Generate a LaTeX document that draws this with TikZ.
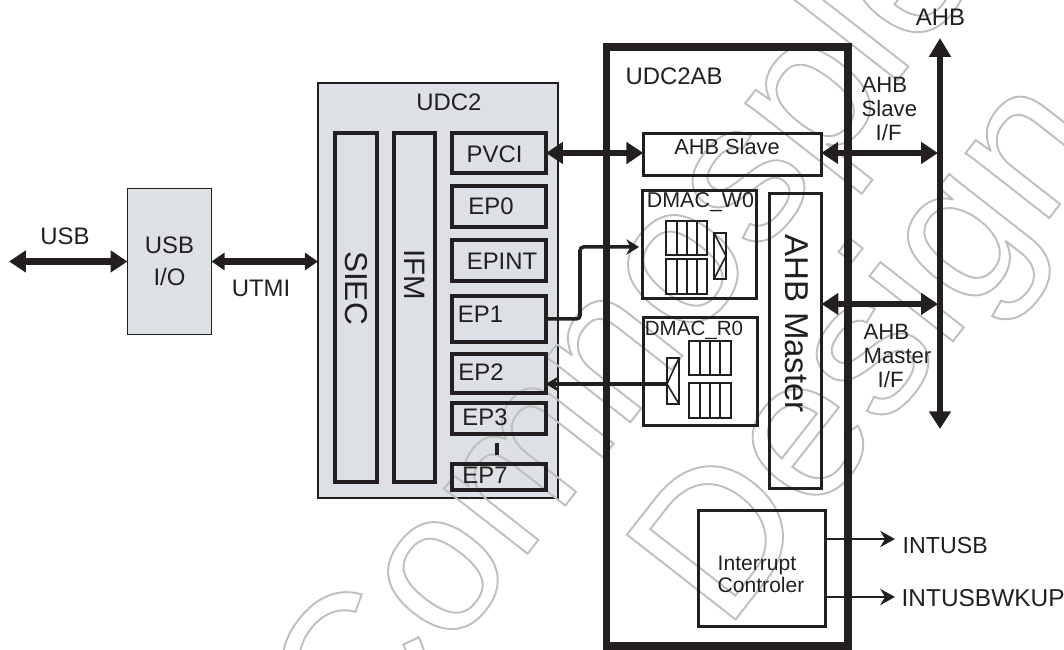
\documentclass[tikz,border=0pt]{standalone}
\usepackage{fontspec}
\setmainfont{Liberation Sans}
\usepackage{tikz}
\usetikzlibrary{positioning, arrows.meta}
\definecolor{panelgrey}{RGB}{221,224,229}
\definecolor{ink}{RGB}{35,31,32}
\newcommand{\hollow}[1]{\special{pdf:code 1 Tr 0.55 w}#1\special{pdf:code 0 Tr}}

\begin{document}
\begin{tikzpicture}[
    >=Stealth,
    greybox/.style={draw=ink, fill=panelgrey, line width=0.36pt, outer sep=0pt, inner sep=0pt},
    block/.style={draw=ink, line width=1.14pt, outer sep=0pt, inner sep=0pt},
    thinblock/.style={draw=ink, line width=0.85pt, outer sep=0pt, inner sep=0pt},
    lbl/.style={inner sep=0pt, text=ink, font=\fontsize{6.8}{8}\selectfont},
    iflbl/.style={inner sep=0pt, text=ink, anchor=west, align=left, font=\fontsize{6.3}{6.8}\selectfont},
    stamp/.style={inner sep=0pt, anchor=base west, rotate=52, text=black!25, font=\fontsize{57}{60}\selectfont},
    bus/.style={{Triangle[length=4.8pt,width=6pt]}-{Triangle[length=4.8pt,width=6pt]}, draw=ink, line width=1.9pt},
    smallbus/.style={{Triangle[length=3.7pt,width=4.8pt]}-{Triangle[length=3.7pt,width=4.8pt]}, draw=ink, line width=1.9pt},
    link/.style={-{Stealth[length=3.6pt,width=4.4pt]}, draw=ink, line width=1pt},
    outlink/.style={-{Stealth[length=4.2pt,width=4.6pt]}, draw=ink, line width=0.7pt},
    fifo/.style={draw=ink, line width=0.45pt}
]

\useasboundingbox (0,0) rectangle (10.64,6.5);

% Outside block and the USB side
\node[greybox, minimum width=0.84cm, minimum height=1.46cm, align=center, text=ink, font=\fontsize{6.8}{9.1}\selectfont] (usbio) at (1.695,3.885) {USB\\I/O};
\node[greybox, minimum width=2.40cm, minimum height=4.15cm] (udc2) at (4.38,3.595) {};
\coordinate (usbend) at (0.09,3.885);
\node[lbl] (usblbl) at (0.65,4.14) {USB};
\node[lbl] (utmilbl) at (2.61,3.62) {UTMI};
\node[lbl] (udc2lbl) at (4.49,5.48) {UDC2};

% Grey stamp across the page
\node[stamp] (stampa) at (3.61,-1.17) {\hollow{Comnosple}};
\node[stamp] (stampb) at (7.25,0.17) {\hollow{Design}};

% Columns of the UDC2
\node[block, minimum width=0.42cm, minimum height=3.49cm] (siec) at (3.56,3.425) {};
\node[block, minimum width=0.41cm, minimum height=3.49cm] (ifm) at (4.145,3.425) {};
\node[lbl, rotate=-90, font=\fontsize{9}{10}\selectfont] (sieclbl) at (3.56,3.62) {SIEC};
\node[lbl, rotate=-90, font=\fontsize{8.4}{10}\selectfont] (ifmlbl) at (4.15,3.75) {IFM};

% Endpoints
\node[block, minimum width=0.94cm, minimum height=0.40cm] (pvci) at (4.99,4.97) {};
\node[block, minimum width=0.94cm, minimum height=0.41cm] (ep0) at (4.99,4.435) {};
\node[block, minimum width=0.94cm, minimum height=0.41cm] (epint) at (4.99,3.895) {};
\node[block, minimum width=0.94cm, minimum height=0.46cm] (ep1) at (4.99,3.31) {};
\node[block, minimum width=0.94cm, minimum height=0.39cm] (ep2) at (4.99,2.765) {};
\node[block, minimum width=0.94cm, minimum height=0.31cm] (ep3) at (4.99,2.315) {};
\node[block, minimum width=0.94cm, minimum height=0.26cm] (ep7) at (4.99,1.73) {};
\node[lbl] (pvcilbl) at (4.946,4.96) {PVCI};
\node[lbl] (ep0lbl) at (4.91,4.44) {EP0};
\node[lbl] (epintlbl) at (5.02,3.89) {EPINT};
\node[lbl] (ep1lbl) at (4.805,3.36) {EP1};
\node[lbl] (ep2lbl) at (4.81,2.78) {EP2};
\node[lbl] (ep3lbl) at (4.85,2.33) {EP3};
\node[lbl] (ep7lbl) at (4.85,1.75) {EP7};
\fill[ink] (4.95,2.07) rectangle (4.99,1.95);

% The UDC2AB and its blocks
\node[draw=ink, line width=2.13pt, minimum width=2.415cm, minimum height=5.99cm, outer sep=0pt] (udc2ab) at (7.2725,3.035) {};
\node[lbl] (udc2ablbl) at (6.74,5.74) {UDC2AB};
\node[thinblock, minimum width=1.78cm, minimum height=0.42cm] (ahbslave) at (7.323,4.955) {};
\node[lbl, font=\fontsize{6.2}{7.4}\selectfont] (ahbslavelbl) at (7.27,5.03) {AHB Slave};
\node[thinblock, minimum width=1.14cm, minimum height=1.08cm] (dmacw) at (6.995,4.055) {};
\node[thinblock, minimum width=1.14cm, minimum height=1.08cm] (dmacr) at (7.005,2.785) {};
\node[lbl, font=\fontsize{6.1}{7}\selectfont] (dmacwlbl) at (7.005,4.48) {DMAC\_W0};
\node[lbl, font=\fontsize{5.85}{7}\selectfont] (dmacrlbl) at (6.94,3.20) {DMAC\_R0};
\node[thinblock, minimum width=0.52cm, minimum height=2.95cm] (ahbmaster) at (7.955,3.09) {};
\node[lbl, rotate=-90, font=\fontsize{9.4}{11}\selectfont] (ahbmasterlbl) at (7.97,3.26) {AHB Master};
\node[thinblock, minimum width=1.27cm, minimum height=1.16cm] (intc) at (7.62,0.815) {};
\node[inner sep=0pt, text=ink, anchor=west, align=left, font=\fontsize{6}{6.3}\selectfont] (intclbl) at (7.17,0.76) {Interrupt\\Controler};

% FIFOs of the DMAC_W0
\draw[fifo] (6.66,4.29) rectangle (7.07,3.95);
\draw[fifo] (6.66,3.91) rectangle (7.07,3.56);
\foreach \x in {6.77,6.87,6.97} {
    \draw[fifo] (\x,4.29) -- (\x,3.95);
    \draw[fifo] (\x,3.91) -- (\x,3.56);
}
\draw[fifo, line width=0.6pt] (7.14,4.17) rectangle (7.26,3.71);
\draw[fifo] (7.14,4.17) -- (7.26,3.94) -- (7.14,3.71);

% FIFOs of the DMAC_R0
\draw[fifo] (6.89,3.09) rectangle (7.31,2.75);
\draw[fifo] (6.89,2.67) rectangle (7.31,2.32);
\foreach \x in {7.00,7.10,7.20} {
    \draw[fifo] (\x,3.09) -- (\x,2.75);
    \draw[fifo] (\x,2.67) -- (\x,2.32);
}
\draw[fifo, line width=0.6pt] (6.67,2.92) rectangle (6.79,2.46);
\draw[fifo] (6.79,2.92) -- (6.67,2.66) -- (6.79,2.46);
\coordinate (rtip) at (6.67,2.66);

% AHB bus
\coordinate (ahbtop) at (9.40,6.12);
\coordinate (ahbbot) at (9.40,2.21);
\coordinate (slavejoin) at (9.38,4.97);
\coordinate (masterjoin) at (9.38,3.46);
\coordinate (wkin) at (6.39,4.03);
\coordinate (ep1bend) at (5.80,4.03);
\draw[{Triangle[length=5pt,width=6pt]}-{Triangle[length=5.4pt,width=6pt]}, draw=ink, line width=1.5pt] (ahbbot) -- (ahbtop);
\node[lbl] (ahblbl) at (9.405,6.33) {AHB};
\node[iflbl] (slaveif) at (8.61,5.41) {AHB\\Slave\\\hspace*{0.14cm}I/F};
\node[iflbl] (masterif) at (8.63,2.94) {AHB\\Master\\\hspace*{0.14cm}I/F};

% Connections
\draw[bus] (usbend) -- (usbio.west);
\draw[smallbus] (usbio.east) -- (usbio.east -| udc2.west);
\draw[bus] (pvci.east) -- (pvci.east -| ahbslave.west);
\draw[bus] (slavejoin -| ahbslave.east) -- (slavejoin);
\draw[bus] (masterjoin -| ahbmaster.east) -- (masterjoin);
\draw[link, rounded corners=1pt] (ep1.east) -| (ep1bend) -- (wkin);
\draw[link] (rtip) -- (rtip -| ep2.east);
\coordinate (intout) at (8.27,1.11);
\coordinate (wkout) at (8.27,0.53);
\draw[outlink] (intout) -- ++(0.68,0);
\draw[outlink] (wkout) -- ++(0.68,0);
\node[lbl, anchor=west, font=\fontsize{6.6}{8}\selectfont] (intusb) at (9.02,1.045) {INTUSB};
\node[lbl, anchor=west, font=\fontsize{6.95}{8}\selectfont] (intusbwkup) at (9.01,0.515) {INTUSBWKUP};

\end{tikzpicture}
\end{document}
